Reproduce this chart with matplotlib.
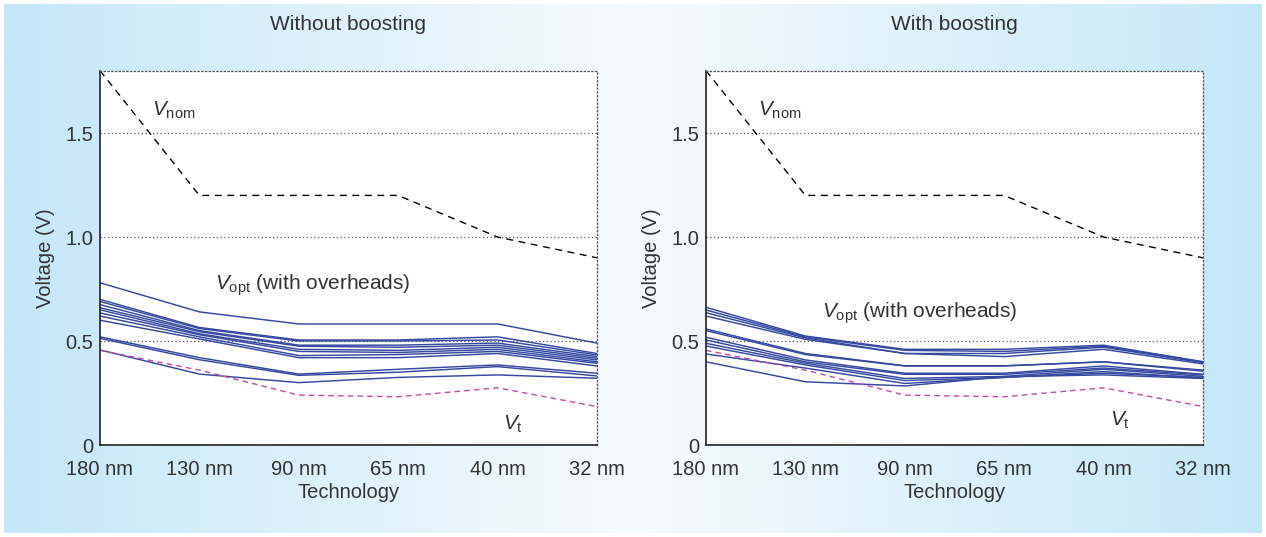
import numpy as np
import matplotlib
matplotlib.use("Agg")
import matplotlib.pyplot as plt
from matplotlib.colors import LinearSegmentedColormap

plt.rcParams['font.family'] = ['Liberation Sans', 'DejaVu Sans']
plt.rcParams['mathtext.fontset'] = 'custom'
plt.rcParams['mathtext.rm'] = 'Liberation Sans'
plt.rcParams['mathtext.it'] = 'Liberation Sans:italic'

tech = ['180 nm', '130 nm', '90 nm', '65 nm', '40 nm', '32 nm']
v_nom = [1.8, 1.2, 1.2, 1.2, 1.0, 0.9]
v_t = [0.455, 0.36, 0.24, 0.232, 0.275, 0.185]

# V_opt curves, without boosting
vopt_plain = [
    [0.78, 0.64, 0.582, 0.582, 0.582, 0.49],
    [0.70, 0.565, 0.505, 0.505, 0.52, 0.44],
    [0.69, 0.56, 0.50, 0.50, 0.505, 0.433],
    [0.675, 0.55, 0.48, 0.48, 0.49, 0.425],
    [0.66, 0.545, 0.475, 0.47, 0.48, 0.417],
    [0.65, 0.535, 0.46, 0.455, 0.47, 0.409],
    [0.635, 0.53, 0.45, 0.445, 0.46, 0.40],
    [0.62, 0.52, 0.43, 0.435, 0.45, 0.393],
    [0.60, 0.51, 0.42, 0.42, 0.44, 0.38],
    [0.52, 0.42, 0.341, 0.364, 0.385, 0.345],
    [0.513, 0.41, 0.335, 0.35, 0.377, 0.332],
    [0.457, 0.341, 0.30, 0.325, 0.337, 0.321],
]

# V_opt curves, with boosting
vopt_boost = [
    [0.662, 0.524, 0.46, 0.46, 0.48, 0.40],
    [0.649, 0.52, 0.455, 0.45, 0.475, 0.40],
    [0.636, 0.515, 0.44, 0.44, 0.47, 0.396],
    [0.62, 0.508, 0.44, 0.425, 0.46, 0.39],
    [0.558, 0.44, 0.381, 0.381, 0.40, 0.36],
    [0.55, 0.435, 0.38, 0.38, 0.40, 0.355],
    [0.518, 0.409, 0.345, 0.345, 0.38, 0.34],
    [0.505, 0.40, 0.34, 0.34, 0.37, 0.337],
    [0.489, 0.393, 0.32, 0.33, 0.364, 0.33],
    [0.476, 0.385, 0.31, 0.325, 0.353, 0.322],
    [0.4375, 0.37, 0.296, 0.325, 0.345, 0.325],
    [0.40, 0.304, 0.284, 0.329, 0.337, 0.32],
]

panels = [
    ('Without boosting', vopt_plain, (1.16, 0.77), (4.06, 0.10)),
    ('With boosting', vopt_boost, (1.17, 0.635), (4.07, 0.12)),
]

txt = '#333333'
blue = '#34499f'
pink = '#c548a8'

fig = plt.figure(figsize=(12.66, 5.37), dpi=100)

# background gradient: blue at the edges, nearly white in the middle
bg = fig.add_axes([0, 0, 1, 1], zorder=-10)
cmap = LinearSegmentedColormap.from_list('bg', ['#c4e7f8', '#f6fbfd', '#c4e7f8'])
grad = np.linspace(0, 1, 512).reshape(1, -1)
bg.imshow(grad, aspect='auto', cmap=cmap, extent=[4 / 1266, 1 - 4 / 1266, 4 / 537, 1 - 4 / 537])
bg.set_xlim(0, 1)
bg.set_ylim(0, 1)
bg.axis('off')

x = np.arange(len(tech))
lefts = [100 / 1266, 706 / 1266]
for (title, curves, opt_pos, vt_pos), x0 in zip(panels, lefts):
    ax = fig.add_axes([x0, 0.1713, 0.3925, 0.6972])
    ax.set_facecolor('white')
    for c in curves:
        ax.plot(x, c, color=blue, lw=1.05)
    ax.plot(x, v_t, color=pink, lw=1.0, ls=(0, (4, 3)))
    ax.plot(x, v_nom, color='black', lw=1.0, ls=(0, (5, 4)))

    ax.set_xlim(0, 5)
    ax.set_ylim(0, 1.8)
    ax.set_xticks(x)
    ax.set_xticklabels(tech)
    ax.set_yticks([0, 0.5, 1.0, 1.5])
    ax.set_yticklabels(['0', '0.5', '1.0', '1.5'])
    ax.tick_params(length=0, labelsize=14.5, labelcolor=txt)
    ax.tick_params(axis='x', pad=11)
    ax.tick_params(axis='y', pad=5)
    for y in [0.5, 1.0, 1.5]:
        ax.axhline(y, color='#555555', lw=0.9, ls=(0, (1, 2)), zorder=0)

    ax.spines['left'].set_color('#222222')
    ax.spines['bottom'].set_color('#222222')
    ax.spines['left'].set_linewidth(1.2)
    ax.spines['bottom'].set_linewidth(1.2)
    for s in ['top', 'right']:
        ax.spines[s].set_linestyle((0, (1, 2)))
        ax.spines[s].set_color('#555555')
        ax.spines[s].set_linewidth(0.9)

    ax.set_title(title, fontsize=15, color=txt, pad=29)
    ax.set_xlabel('Technology', fontsize=14.5, color=txt, labelpad=3)
    ax.set_ylabel('Voltage (V)', fontsize=14.5, color=txt, labelpad=7)

    ax.text(0.52, 1.61, r'$V_{\mathrm{nom}}$', fontsize=15, color=txt, va='center')
    ax.text(opt_pos[0], opt_pos[1], r'$V_{\mathrm{opt}}$ (with overheads)',
            fontsize=15, color=txt, va='center')
    ax.text(vt_pos[0], vt_pos[1], r'$V_{\mathrm{t}}$', fontsize=15, color=txt, va='center')

fig.savefig('out.png', dpi=100)
